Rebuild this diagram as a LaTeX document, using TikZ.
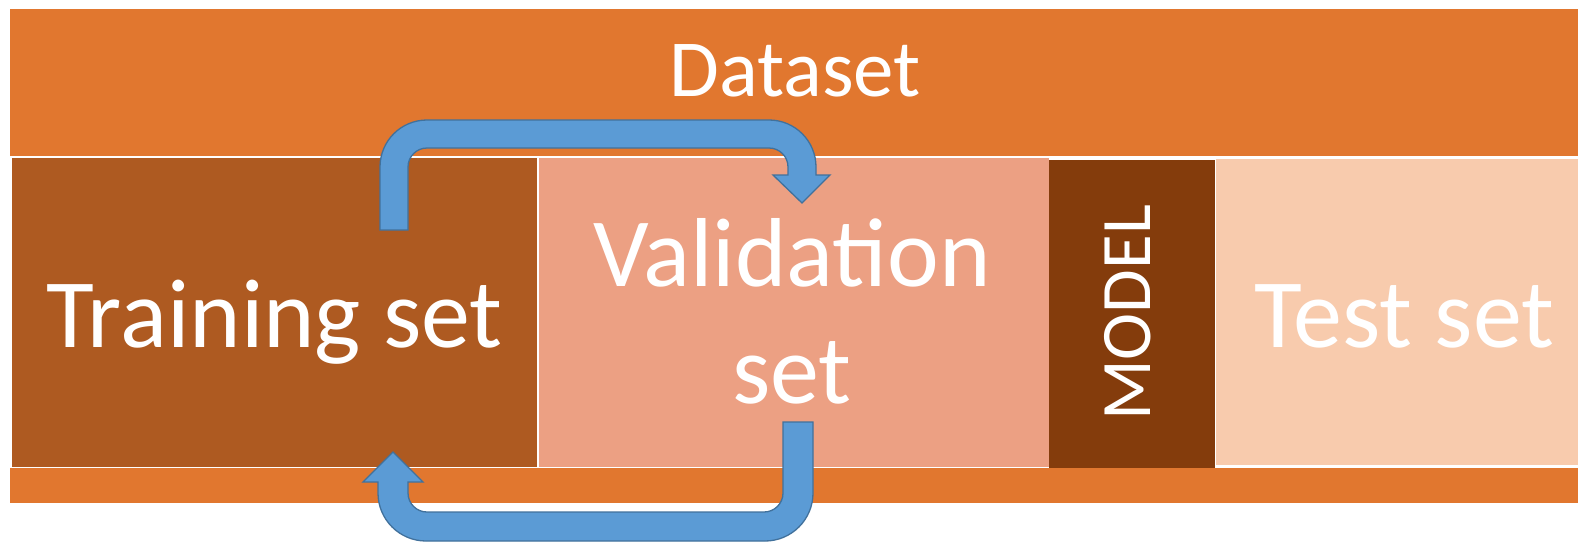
\documentclass[tikz,border=0pt]{standalone}
\usepackage{fontspec}
\setmainfont{Carlito}
\definecolor{bandor}{HTML}{E1772F}
\definecolor{trainc}{HTML}{AE5A21}
\definecolor{valc}{HTML}{ECA083}
\definecolor{modelc}{HTML}{843C0C}
\definecolor{testc}{HTML}{F8CBAD}
\definecolor{arrfill}{HTML}{5B9BD5}
\definecolor{arrline}{HTML}{41719C}
\tikzset{
  lbl/.style={text=white, inner sep=0pt, anchor=base},
  uarrow/.style={fill=arrfill, draw=arrline, line width=1.3pt, line join=miter},
}
\begin{document}
\begin{tikzpicture}[x=1pt,y=-1pt]
\useasboundingbox[fill=white] (0,0) rectangle (1578,542);
% bands
\fill[bandor] (10,9) rectangle (1578,156);
\fill[bandor] (10,468) rectangle (1578,503);
% boxes
\fill[trainc] (12,158) rectangle (537,467);
\fill[valc] (539,158) rectangle (1049,467);
\fill[modelc] (1049,160) rectangle (1215,468);
\fill[testc] (1216,159) rectangle (1578,465);
% labels
\node[lbl, font=\fontsize{81}{100}\selectfont] (dataset) at (795,96) {Dataset};
\node[lbl, font=\fontsize{98}{117}\selectfont] (train) at (274.5,347) {Training set};
\node[lbl, font=\fontsize{98}{117}\selectfont, align=center] (val) at (792,403) {Validation\\set};
\node[lbl, font=\fontsize{71}{80}\selectfont, rotate=90] (model) at (1150,313) {MODEL};
\node[lbl, font=\fontsize{98}{117}\selectfont] (test) at (1404.5,347) {Test set};
% top U-turn arrow (training -> validation)
\draw[uarrow] (380,230) -- (380,167)
  .. controls (380,141) and (401,120) .. (427,120)
  -- (769,120)
  .. controls (795,120) and (816,141) .. (816,167)
  -- (816,175) -- (830,175) -- (802,203) -- (773,175) -- (788,175) -- (788,167)
  .. controls (788,156.5) and (779.5,148) .. (769,148)
  -- (427,148)
  .. controls (416.5,148) and (408,156.5) .. (408,167)
  -- (408,230) -- cycle;
% bottom U-turn arrow (validation -> training)
\draw[uarrow] (813,422) -- (813,493)
  .. controls (813,519.5) and (791.5,541) .. (765,541)
  -- (426,541)
  .. controls (399.5,541) and (378,519.5) .. (378,493)
  -- (378,482) -- (363,482) -- (393,452) -- (423,482) -- (408,482) -- (408,493)
  .. controls (408,503.5) and (416.5,512) .. (427,512)
  -- (764,512)
  .. controls (774.5,512) and (783,503.5) .. (783,493)
  -- (783,422) -- cycle;
\end{tikzpicture}
\end{document}
